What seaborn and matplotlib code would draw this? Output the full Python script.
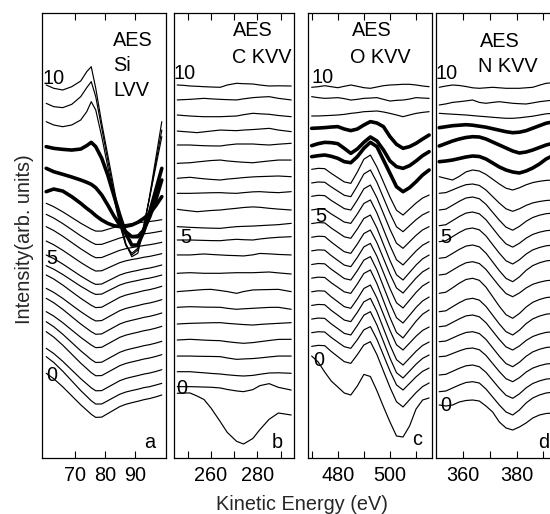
import matplotlib
matplotlib.use("Agg")
import matplotlib.pyplot as plt
import pandas as pd
import seaborn as sns

# ---------------------------------------------------------------------------
# Energy grids (eV) for the four Auger regions
si_energy = [60.5, 63, 66, 69, 72, 74, 75.5, 77, 79, 81, 83, 85, 87, 89, 91, 93, 95, 97, 99]
c_energy = [245.5, 248, 251, 254, 257, 260, 264, 267, 271, 274, 278, 281, 285, 289, 294.5]
o_energy = [470, 472.5, 475, 477.5, 480, 482.5, 485, 487.5, 490, 492.5, 495, 497.5,
            500, 502.5, 505, 507.5, 510, 512.5, 515]
n_energy = [351, 353.5, 356, 358.5, 361, 363.5, 366, 368.5, 371, 373.5, 376, 378.5,
            381, 383.5, 386, 388.5, 391, 394]

# Spectra, first row = trace "0" (bottom) ... last row = trace "10" (top).
# Values are the derivative signal relative to each trace's own baseline.
si_spectra = [
    [16.7, 11.3, 3.2, -5.8, -14.8, -20.2, -24.3, -27.4, -27.1, -23.6, -20.1, -16.6, -14.3, -12.7, -11.3, -9.7, -8.5, -6.9, -5.0],
    [18.1, 12.3, 3.6, -6.1, -15.8, -21.6, -26.0, -29.3, -29.2, -26.0, -22.7, -19.5, -17.3, -15.8, -14.5, -12.9, -11.9, -10.3, -8.6],
    [11.2, 6.0, -1.8, -10.5, -19.2, -24.4, -28.3, -31.3, -31.1, -27.8, -24.5, -21.2, -19.0, -17.5, -16.1, -14.6, -13.5, -12.0, -10.2],
    [12.6, 7.2, -0.9, -9.9, -18.9, -24.3, -28.4, -31.5, -31.3, -28.0, -24.7, -21.4, -19.2, -17.7, -16.3, -14.8, -13.7, -12.2, -10.4],
    [7.3, 2.3, -5.2, -13.5, -21.8, -26.8, -30.6, -33.5, -33.2, -29.9, -26.6, -23.3, -21.1, -19.6, -18.2, -16.7, -15.6, -14.1, -12.3],
    [2.1, -2.3, -8.9, -16.3, -23.6, -28.0, -31.3, -33.9, -33.5, -30.2, -26.9, -23.6, -21.4, -19.9, -18.5, -17.0, -15.9, -14.4, -12.6],
    [0.2, -4.2, -10.8, -18.2, -25.5, -29.9, -33.2, -35.8, -35.4, -32.1, -28.8, -25.5, -23.3, -21.8, -20.4, -18.9, -17.8, -16.3, -14.5],
    [-5.1, -9.1, -15.1, -21.8, -28.4, -32.4, -35.4, -37.7, -37.3, -34.0, -30.7, -27.4, -25.2, -23.7, -22.3, -20.8, -19.7, -18.2, -16.4],
    [-7.0, -11.0, -17.0, -23.7, -30.3, -34.3, -37.3, -39.6, -39.2, -35.9, -32.6, -29.3, -27.1, -25.6, -24.2, -22.7, -21.6, -20.1, -18.3],
    [-12.9, -16.4, -21.7, -27.6, -33.5, -37.0, -39.7, -41.7, -41.3, -38.3, -35.3, -32.3, -30.3, -28.9, -27.7, -26.3, -25.3, -23.9, -22.3],
    [-17.5, -21.1, -26.5, -32.5, -38.5, -42.1, -44.8, -46.9, -46.5, -43.5, -40.5, -37.5, -35.5, -34.1, -32.9, -31.5, -30.5, -29.1, -27.5],
    [-18.8, -22.5, -28.0, -34.1, -40.2, -43.9, -46.6, -48.8, -48.5, -45.8, -43.1, -40.4, -38.6, -37.3, -36.3, -35.0, -34.1, -32.8, -31.4],
    [-19.7, -23.5, -29.2, -35.5, -41.8, -45.6, -48.5, -50.7, -50.5, -48.1, -45.7, -43.3, -41.7, -40.6, -39.6, -38.5, -37.7, -36.6, -35.3],
    [-22.6, -26.3, -31.8, -37.9, -44.1, -47.8, -50.5, -52.7, -52.6, -50.5, -48.4, -46.3, -44.9, -43.9, -43.1, -42.1, -41.4, -40.4, -39.3],
    [-26.8, -30.2, -35.3, -41.0, -46.7, -50.1, -52.6, -54.6, -54.6, -52.8, -51.0, -49.2, -48.0, -47.2, -46.4, -45.6, -45.0, -44.2, -43.2],
    [-30.4, -27.8, -29.8, -35.4, -42.1, -47.1, -50.4, -54.4, -58.8, -62.1, -64.4, -65.4, -65.1, -63.8, -61.1, -57.1, -52.1, -44.4, -35.4],
    [-22.3, -25.7, -28.3, -31.0, -34.0, -36.3, -38.3, -41.7, -49.0, -59.0, -69.7, -79.0, -85.7, -90.7, -90.7, -84.0, -70.7, -54.0, -34.0],
    [-15.9, -17.6, -18.6, -19.3, -18.3, -14.9, -11.6, -15.9, -27.6, -44.3, -64.3, -84.3, -102.6, -114.3, -114.3, -100.9, -80.9, -59.3, -37.6],
    [-6.2, -9.5, -11.2, -9.5, -4.5, 3.8, 13.8, 5.5, -21.2, -51.2, -81.2, -109.5, -129.5, -137.8, -132.8, -109.5, -81.2, -51.2, -21.2],
    [-3.1, -6.4, -7.4, -4.1, 3.6, 12.6, 18.6, 3.6, -28.1, -59.8, -91.4, -121.4, -144.8, -154.8, -149.8, -126.4, -96.4, -63.1, -29.8],
    [0.0, -3.3, -5.0, -1.7, 4.0, 13.3, 18.3, -3.3, -38.3, -70.0, -101.7, -133.3, -158.3, -171.7, -168.3, -143.3, -110.0, -73.3, -36.7],
]

c_spectra = [
    [9.2, 9.5, 9.5, 6.5, 3.0, -5.5, -19.2, -29.9, -38.8, -41.5, -36.0, -27.2, -16.8, -10.5, -12.5],
    [0.0, 0.0, 0.0, -0.2, -0.4, -0.6, -1.3, -2.8, -4.3, -5.0, -3.0, 1.0, 3.0, -0.7, -3.4],
    [-0.9, -0.9, -0.9, -1.5, -2.0, -2.6, -3.2, -4.0, -4.8, -5.2, -4.6, -3.5, -2.2, -2.0, -2.5],
    [-1.1, -1.1, -1.1, -1.3, -1.4, -1.5, -1.7, -3.0, -4.4, -4.0, -3.6, -3.0, -2.0, -1.1, -1.1],
    [-0.9, -0.6, -0.2, -0.6, -1.0, -1.3, -1.6, -2.6, -3.6, -4.2, -3.5, -2.6, -1.4, -0.3, -0.2],
    [-0.8, -0.4, -0.1, 0.1, 0.3, 0.5, 0.6, -0.1, -0.8, -1.3, -1.8, -1.2, -0.6, -0.1, 0.6],
    [0.1, 0.4, 0.7, 0.5, 0.3, 0.2, 0.1, -0.9, -1.9, -1.4, -0.9, -0.5, 0.0, 0.1, -1.9],
    [-0.1, 0.4, 0.9, 1.5, 2.0, 2.2, 1.0, 0.0, -1.8, 0.0, 1.6, 1.8, 2.0, 2.2, -0.1],
    [2.4, 2.7, 3.0, 2.7, 2.4, 2.4, 2.4, 2.7, 3.0, 3.0, 3.0, 3.3, 3.7, 2.8, 1.7],
    [4.9, 4.9, 4.9, 5.4, 5.9, 5.4, 4.9, 4.5, 4.2, 3.9, 5.0, 6.4, 6.0, 5.4, 4.9],
    [4.0, 4.0, 4.0, 3.8, 3.6, 3.4, 3.3, 4.0, 4.7, 4.3, 4.0, 5.0, 6.0, 6.7, 7.3],
    [1.5, 1.2, 0.8, 0.5, 0.2, 0.0, -0.2, 0.6, 1.5, 1.8, 2.1, 2.5, 3.0, 3.5, 4.8],
    [3.0, 2.2, 1.4, 0.6, 1.2, 1.8, 2.3, 3.1, 4.0, 4.8, 5.4, 5.0, 4.0, 3.2, 2.3],
    [3.1, 3.1, 3.1, 3.3, 3.5, 3.7, 3.8, 3.4, 3.1, 3.8, 4.6, 4.8, 4.2, 3.8, 4.8],
    [2.3, 2.8, 3.3, 2.5, 1.8, 1.2, 0.6, 1.5, 2.3, 3.0, 3.7, 4.0, 4.3, 4.6, 3.9],
    [1.4, 1.7, 2.0, 2.8, 3.5, 4.2, 4.7, 3.8, 3.0, 2.5, 2.0, 2.8, 3.8, 4.7, 4.7],
    [3.9, 3.9, 3.9, 3.5, 3.2, 3.0, 2.9, 3.9, 4.9, 4.9, 4.9, 4.4, 3.9, 4.7, 5.6],
    [2.0, 1.5, 1.0, 0.4, 1.2, 2.0, 3.0, 2.7, 2.4, 3.0, 3.5, 4.0, 4.7, 3.0, 1.4],
    [2.2, 1.7, 1.2, 0.8, 0.5, 0.5, 0.5, 0.8, 1.2, 2.5, 3.9, 3.4, 2.9, 1.7, 0.5],
    [1.4, 1.7, 2.0, 2.5, 3.0, 2.5, 2.0, 1.7, 1.4, 2.5, 3.7, 4.2, 4.7, 3.0, 1.4],
    [0.5, 0.2, -0.5, -0.8, -1.2, -1.5, -1.8, 0.5, 2.2, 1.8, 1.5, 0.5, -0.5, -0.3, -0.5],
]

o_spectra = [
    [4, -2, -12, -21, -27, -33, -35, -26, -14.4, -16.5, -30.7, -46.7, -62, -76, -77, -66, -49, -40, -38],
    [0, 1.0, 0.7, -5.1, -10.2, -15.3, -17.0, -8.3, 1.4, 4.7, -8.3, -24.7, -41.0, -55.4, -60.6, -53.4, -46.2, -40.2, -36.6],
    [0, 1.0, 0.7, -4.7, -9.4, -14.0, -15.6, -7.0, 2.9, 6.1, -6.6, -22.4, -38.3, -52.2, -57.3, -50.7, -44.1, -38.6, -35.3],
    [0, 1.0, 0.7, -4.8, -9.5, -14.3, -15.9, -6.5, 3.9, 7.4, -5.9, -22.4, -39.0, -53.6, -58.9, -52.0, -45.1, -39.3, -35.9],
    [0, 1.0, 0.7, -4.9, -9.7, -14.6, -16.2, -6.9, 3.6, 7.1, -6.2, -22.9, -39.6, -54.2, -59.6, -52.7, -45.8, -40.0, -36.6],
    [0, 1.0, 0.7, -5.0, -9.9, -14.9, -16.5, -7.2, 3.3, 6.8, -6.2, -22.5, -38.7, -53.0, -58.2, -51.3, -44.4, -38.6, -35.2],
    [0, 1.0, 0.7, -4.6, -9.1, -13.7, -15.2, -5.8, 4.7, 8.2, -5.4, -22.4, -39.4, -54.3, -59.8, -51.4, -43.0, -36.0, -31.8],
    [0, 1.0, 0.7, -4.7, -9.3, -14.0, -15.5, -6.1, 4.4, 7.9, -5.4, -22.0, -38.6, -53.2, -58.5, -50.8, -42.9, -36.4, -32.5],
    [0, 1.0, 0.7, -4.7, -9.5, -14.2, -15.8, -6.5, 4.0, 7.5, -5.4, -21.6, -37.7, -51.9, -57.1, -49.3, -41.5, -35.0, -31.1],
    [0, 1.0, 0.7, -4.8, -9.7, -14.5, -16.1, -6.8, 3.7, 7.2, -5.4, -21.1, -36.9, -50.7, -55.8, -48.3, -40.8, -34.6, -30.8],
    [0, 1.0, 0.7, -4.4, -8.8, -13.2, -14.7, -5.4, 5.1, 8.6, -4.4, -20.7, -36.9, -51.2, -56.4, -48.9, -41.4, -35.2, -31.4],
    [0, 1.0, 0.7, -4.0, -8.0, -12.1, -13.4, -4.0, 6.5, 10.0, -3.0, -19.3, -35.5, -49.8, -55.0, -48.0, -41.0, -35.2, -31.7],
    [0, 1.0, 0.7, -4.1, -8.2, -12.3, -13.7, -3.7, 7.5, 11.3, -1.4, -17.2, -33.0, -46.9, -52.0, -45.5, -39.0, -33.6, -30.3],
    [-0.3, 0.7, 0.4, -4.2, -8.4, -12.6, -14.0, -3.3, 8.7, 12.7, 0.4, -15.1, -30.5, -44.1, -49.0, -43.0, -37.0, -32.1, -29.0],
    [-0.3, 0.7, 0.4, -4.3, -8.6, -12.9, -14.3, -3.0, 9.8, 14.0, 2.0, -13.0, -28.0, -41.2, -46.0, -40.0, -34.0, -29.0, -26.0],
    [-1.3, -0.3, 0.4, -0.9, -2.9, -6.3, -7.3, -1.3, 7.1, 13.1, 8.7, -4.6, -17.9, -31.3, -36.3, -32.3, -26.3, -19.6, -14.6],
    [-3.9, -1.9, -0.6, -0.9, -1.9, -6.6, -11.6, -7.2, -0.6, 4.8, 0.8, -8.2, -19.2, -24.9, -26.6, -23.9, -19.2, -13.9, -9.9],
    [-0.2, 0.1, 0.5, 1.1, 1.5, -0.9, -2.5, -0.9, 3.1, 6.5, 5.1, 1.5, -8.5, -16.2, -20.2, -18.5, -15.2, -10.9, -6.9],
    [-1.5, -1.5, -1.2, -0.9, -0.5, 0.1, 1.1, 1.8, 2.8, 3.1, 3.5, 2.5, 1.1, -0.5, -2.2, -0.5, 1.1, 2.1, 2.8],
    [4.2, 3.2, 2.5, 2.8, 3.2, 2.2, 0.8, 1.5, 2.5, 2.8, 3.2, 1.5, -0.2, 0.5, 0.8, 1.8, 3.2, 2.8, 2.5],
    [-0.1, 0.5, 1.5, 0.5, -0.5, 0.9, 2.2, 0.9, -0.5, -1.1, 0.2, 1.5, 2.2, 2.5, 2.9, 2.9, 2.2, 1.2, 0.5],
]

n_spectra = [
    [0, -1, 0, 3, 4.5, 5, 4, -1, -7, -17, -23, -25, -22, -18, -13, -10, -8.5, -8],
    [-2.6, -1.9, 1.1, 4.1, 6.6, 7.4, 6.1, 0.1, -7.9, -15.9, -22.9, -25.9, -20.9, -13.9, -8.9, -5.9, -3.9, -2.9],
    [-1.8, -1.1, 1.9, 4.9, 7.4, 8.2, 6.5, 0.9, -7.1, -15.1, -22.1, -25.1, -20.7, -14.7, -10.3, -7.7, -5.9, -5.1],
    [0.6, 1.2, 3.8, 6.4, 8.6, 9.3, 7.6, 1.9, -6.2, -14.3, -21.4, -24.4, -20.4, -14.8, -10.8, -8.4, -6.7, -6.0],
    [-0.3, 0.4, 3.4, 6.4, 8.9, 9.7, 7.9, 2.0, -6.4, -14.8, -22.2, -25.3, -20.9, -14.9, -10.5, -7.9, -6.1, -5.3],
    [-1.2, -0.4, 3.1, 6.6, 9.6, 10.5, 8.7, 2.8, -5.6, -14.0, -21.4, -24.5, -20.5, -15.0, -11.0, -8.6, -6.9, -6.2],
    [-2.1, -1.2, 2.9, 6.9, 10.2, 11.3, 9.5, 3.2, -5.6, -14.4, -22.1, -25.4, -20.6, -14.1, -9.3, -6.5, -4.6, -3.7],
    [0.4, 1.5, 5.9, 10.5, 14.2, 15.4, 13.4, 6.6, -3.0, -12.6, -21.0, -24.6, -19.8, -13.4, -8.6, -5.8, -3.9, -3.0],
    [2.8, 3.7, 7.7, 11.7, 15.0, 16.1, 14.3, 8.4, 0.0, -8.4, -15.8, -18.9, -15.2, -10.2, -6.5, -4.4, -2.9, -2.2],
    [3.6, 4.5, 8.5, 12.5, 15.8, 16.9, 15.1, 8.8, 0.0, -8.8, -16.5, -19.8, -15.0, -8.5, -3.7, -0.9, 1.0, 1.9],
    [4.3, 5.3, 9.4, 13.5, 16.9, 18.0, 16.2, 10.1, 1.4, -7.2, -14.8, -18.0, -13.8, -8.1, -3.9, -1.5, 0.2, 1.0],
    [4.4, 5.4, 9.5, 13.6, 17.0, 18.1, 16.3, 10.4, 2.0, -6.5, -13.8, -17.0, -13.2, -8.1, -4.3, -2.1, -0.6, 0.1],
    [4.2, 5.1, 9.0, 12.9, 16.2, 17.2, 15.5, 9.9, 1.9, -6.0, -13.0, -16.0, -12.2, -7.1, -3.3, -1.0, 0.5, 1.2],
    [5.0, 5.7, 8.4, 11.2, 13.6, 14.3, 12.9, 8.3, 1.7, -4.8, -10.5, -13.0, -10.5, -7.1, -4.6, -3.2, -2.2, -1.7],
    [5.7, 4.0, 2.4, 6.0, 10.5, 12.4, 11.4, 8.0, 3.2, -1.6, -5.8, -7.6, -5.4, -2.4, -0.2, 1.1, 2.0, 2.4],
    [4.8, 5.5, 6.5, 8.0, 9.5, 10.5, 10.0, 7.5, 3.5, -0.5, -3.5, -5.5, -6.5, -4.5, -1.5, 2.5, 7.5, 11.5],
    [4.6, 7.1, 9.6, 11.6, 13.1, 13.9, 13.6, 11.6, 8.6, 5.6, 2.6, -0.4, -2.4, -1.4, 0.6, 3.1, 5.6, 7.6],
    [7.0, 8.0, 9.0, 9.5, 10.0, 9.5, 8.5, 7.5, 6.0, 4.5, 3.0, 2.0, 2.5, 4.0, 6.5, 9.0, 11.5, 13.0],
    [5.5, 5.0, 4.6, 4.2, 3.8, 3.2, 2.6, 2.1, 1.5, 1.0, 0.5, 0.5, 1.0, 1.8, 2.6, 3.8, 5.0, 5.5],
    [-2.1, -1.0, 0.5, 1.2, 2.0, 2.9, 0.5, -0.4, 0.5, 1.2, 0.4, -0.4, -0.8, -1.1, 0.0, 1.2, 2.0, 2.9],
    [-0.3, 1.0, 2.0, 1.5, 0.5, -0.8, -1.3, -0.8, -0.3, -0.8, -1.3, -1.3, -1.3, -0.8, -0.3, 1.8, 3.7, 4.3],
]

# traces drawn with a heavy pen
heavy_traces = [15, 16, 17]

# tick positions and labels
si_ticks, si_ticklabels = [70, 80, 90], ["70", "80", "90"]
c_ticks, c_ticklabels = [250, 260, 270, 280, 290], ["", "260", "", "280", ""]
o_ticks, o_ticklabels = [470, 480, 490, 500, 510], ["", "480", "", "500", ""]
n_ticks, n_ticklabels = [360, 370, 380, 390], ["360", "", "380", ""]

# ---------------------------------------------------------------------------
sns.set_style("white")
plt.rcParams["font.family"] = ["Liberation Sans", "DejaVu Sans"]

W, H = 550, 514
fig = plt.figure(figsize=(W / 100, H / 100), dpi=100)


def px_box(x0, x1, y0, y1):
    return [x0 / W, 1 - y1 / H, (x1 - x0) / W, (y1 - y0) / H]


FS = 14.3
panels = [
    dict(energy=si_energy, spectra=si_spectra, box=(42, 166), xlim=(59.1, 100.4),
         base=68.0, step=15.25, heavy=True, ticks=si_ticks, ticklabels=si_ticklabels,
         title=[("AES", 0.573, 0.939), ("Si", 0.573, 0.881), ("LVV", 0.573, 0.825)],
         marks=[("10", 0.008, 0.853), ("5", 0.038, 0.449), ("0", 0.038, 0.1865)],
         letter=("a", 0.823, 0.022)),
    dict(energy=c_energy, spectra=c_spectra, box=(174, 294), xlim=(244.1, 295.7),
         base=55.5, step=15.85, heavy=False, ticks=c_ticks, ticklabels=c_ticklabels,
         title=[("AES", 0.4875, 0.9596), ("C KVV", 0.4875, 0.901)],
         marks=[("10", -0.008, 0.863), ("5", 0.05, 0.4955), ("0", 0.0225, 0.157)],
         letter=("b", 0.814, 0.022)),
    dict(energy=o_energy, spectra=o_spectra, box=(308, 432), xlim=(468.6, 516.1),
         base=98.0, step=13.64, heavy=True, ticks=o_ticks, ticklabels=o_ticklabels,
         title=[("AES", 0.355, 0.9596), ("O KVV", 0.339, 0.901)],
         marks=[("10", 0.03, 0.856), ("5", 0.056, 0.5416), ("0", 0.04, 0.22)],
         letter=("c", 0.836, 0.029)),
    dict(energy=n_energy, spectra=n_spectra, box=(436, 560), xlim=(349.8, 396.2),
         base=53.0, step=15.9, heavy=True, ticks=n_ticks, ticklabels=n_ticklabels,
         title=[("AES", 0.355, 0.937), ("N KVV", 0.339, 0.879)],
         marks=[("10", -0.008, 0.863), ("5", 0.032, 0.4966), ("0", 0.032, 0.119)],
         letter=("d", 0.82, 0.022)),
]

for p in panels:
    x0, x1 = p["box"]
    ax = fig.add_axes(px_box(x0, x1, 13, 458))

    rows = []
    for k, trace in enumerate(p["spectra"]):
        weight = "heavy" if (p["heavy"] and k in heavy_traces) else "light"
        for e, v in zip(p["energy"], trace):
            rows.append(dict(energy=e, signal=p["base"] + p["step"] * k + v,
                             trace=k, weight=weight))
    df = pd.DataFrame(rows)

    sns.lineplot(data=df, x="energy", y="signal", units="trace", estimator=None,
                 size="weight", sizes={"light": 0.85, "heavy": 2.6},
                 color="black", legend=False, sort=False, ax=ax)

    ax.set_xlim(*p["xlim"])
    ax.set_ylim(0, 445)
    ax.set_yticks([])
    ax.set_xticks(p["ticks"])
    ax.set_xticklabels(p["ticklabels"])
    ax.tick_params(axis="x", direction="in", top=True, bottom=True, length=5.3,
                   width=0.8, labelsize=FS, pad=5.5, colors="black")
    ax.set_xlabel("")
    ax.set_ylabel("")
    for sp in ax.spines.values():
        sp.set_visible(True)
        sp.set_color("black")
        sp.set_linewidth(0.9)

    for txt, tx, ty in p["title"]:
        ax.text(tx, ty, txt, transform=ax.transAxes, ha="left", va="center",
                fontsize=FS, color="black")
    for txt, tx, ty in p["marks"]:
        ax.text(tx, ty, txt, transform=ax.transAxes, ha="left", va="center",
                fontsize=FS, color="black")
    lt, lx, ly = p["letter"]
    ax.text(lx, ly, lt, transform=ax.transAxes, ha="left", va="baseline",
            fontsize=FS, color="black")

fig.text(302 / W, 1 - 510 / H, "Kinetic Energy (eV)", ha="center",
         va="baseline", fontsize=FS)
fig.text(24 / W, 1 - 239 / H, "Intensity(arb. units)", rotation=90,
         ha="center", va="center", fontsize=FS)

fig.savefig("out.png", dpi=100)
